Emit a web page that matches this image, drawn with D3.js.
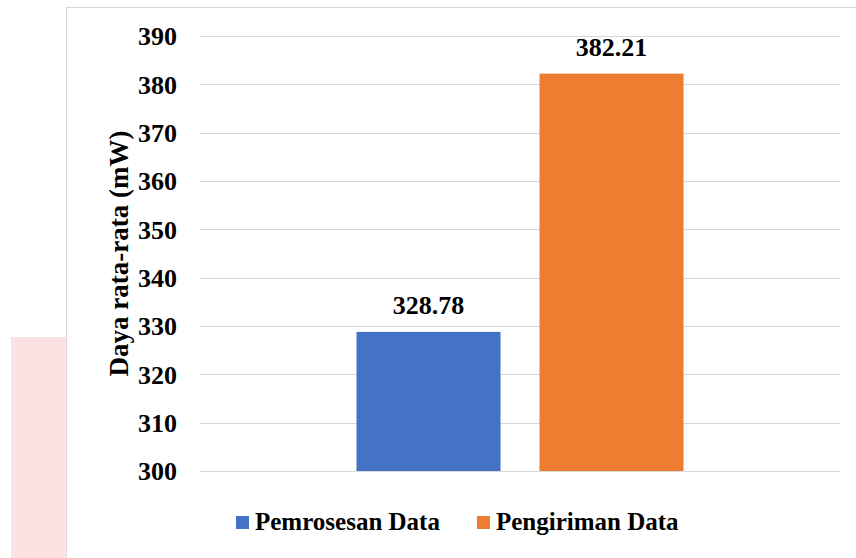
<!DOCTYPE html>
<html>
<head>
<meta charset="utf-8">
<script src="https://cdn.jsdelivr.net/npm/d3@7/dist/d3.min.js"></script>
<style>
  html, body { margin: 0; padding: 0; background: #fff; }
  svg { display: block; font-family: "Liberation Serif", "Times New Roman", serif; font-weight: bold; }
</style>
</head>
<body>
<svg id="chart" width="856" height="558"></svg>
<script>
// Average power per stage (mW)
const categories = ["Daya"];
const seriesNames = ["Pemrosesan Data", "Pengiriman Data"];
const seriesValues = [328.78, 382.21];
const seriesColors = ["#4472c4", "#ed7d31"];
const yTicks = [300, 310, 320, 330, 340, 350, 360, 370, 380, 390];
const yTitle = "Daya rata-rata (mW)";

const svg = d3.select("#chart");
const W = 856, H = 558;
const serif = "'Liberation Serif', 'Times New Roman', serif";

// Faint pink block at the lower left of the page
svg.append("rect")
  .attr("x", 11).attr("y", 337).attr("width", 55).attr("height", H - 337)
  .attr("fill", "#fde2e3");

// Chart area frame (runs off the right and bottom edges)
svg.append("rect")
  .attr("x", 66.5).attr("y", 7.5).attr("width", W).attr("height", H)
  .attr("fill", "#fff").attr("stroke", "#d9d9d9").attr("stroke-width", 1);

const plot = { left: 200, right: 840, top: 36, bottom: 471 };

const y = d3.scaleLinear().domain([300, 390]).range([plot.bottom, plot.top]);

const x0 = d3.scaleBand().domain(categories)
  .range([plot.left, plot.right]).paddingInner(0).paddingOuter(0.4786);
const x1 = d3.scaleBand().domain(seriesNames)
  .range([0, x0.bandwidth()]).paddingInner(0.213).paddingOuter(0);

// Gridlines
svg.append("g")
  .selectAll("line").data(yTicks).join("line")
  .attr("x1", plot.left).attr("x2", plot.right)
  .attr("y1", d => Math.round(y(d)) + 0.5).attr("y2", d => Math.round(y(d)) + 0.5)
  .attr("stroke", "#d9d9d9").attr("stroke-width", 1.2);

// Y axis labels
const yAxis = d3.axisLeft(y).tickValues(yTicks).tickSize(0).tickPadding(0);
const gy = svg.append("g").attr("transform", `translate(177,0)`).call(yAxis);
gy.select(".domain").remove();
gy.selectAll("text")
  .attr("font-family", serif)
  .attr("font-weight", "bold")
  .attr("font-size", 26).attr("fill", "#000").attr("dy", "0.34em");

// Y axis title
svg.append("text")
  .attr("transform", `translate(128,${(plot.top + plot.bottom) / 2}) rotate(-90)`)
  .attr("text-anchor", "middle")
  .attr("font-size", 27).attr("fill", "#000")
  .text(yTitle);

// Bars
const data = seriesNames.map((name, i) => ({ name, value: seriesValues[i], color: seriesColors[i] }));
const group = svg.append("g").attr("transform", `translate(${x0(categories[0])},0)`);
group.selectAll("rect").data(data).join("rect")
  .attr("x", d => x1(d.name))
  .attr("width", x1.bandwidth())
  .attr("y", d => y(d.value))
  .attr("height", d => y(300) - y(d.value))
  .attr("fill", d => d.color);

// Value labels
group.selectAll("text.val").data(data).join("text")
  .attr("class", "val")
  .attr("x", d => x1(d.name) + x1.bandwidth() / 2)
  .attr("y", d => y(d.value) - 18)
  .attr("text-anchor", "middle")
  .attr("font-size", 26).attr("fill", "#000")
  .text(d => d.value.toFixed(2));

// Legend
const legendX = [236, 477];
const legend = svg.append("g");
data.forEach((d, i) => {
  legend.append("rect")
    .attr("x", legendX[i]).attr("y", 516).attr("width", 13).attr("height", 13)
    .attr("fill", d.color);
  legend.append("text")
    .attr("x", legendX[i] + 19).attr("y", 530)
    .attr("font-size", 25).attr("fill", "#000")
    .text(d.name);
});
</script>
</body>
</html>
